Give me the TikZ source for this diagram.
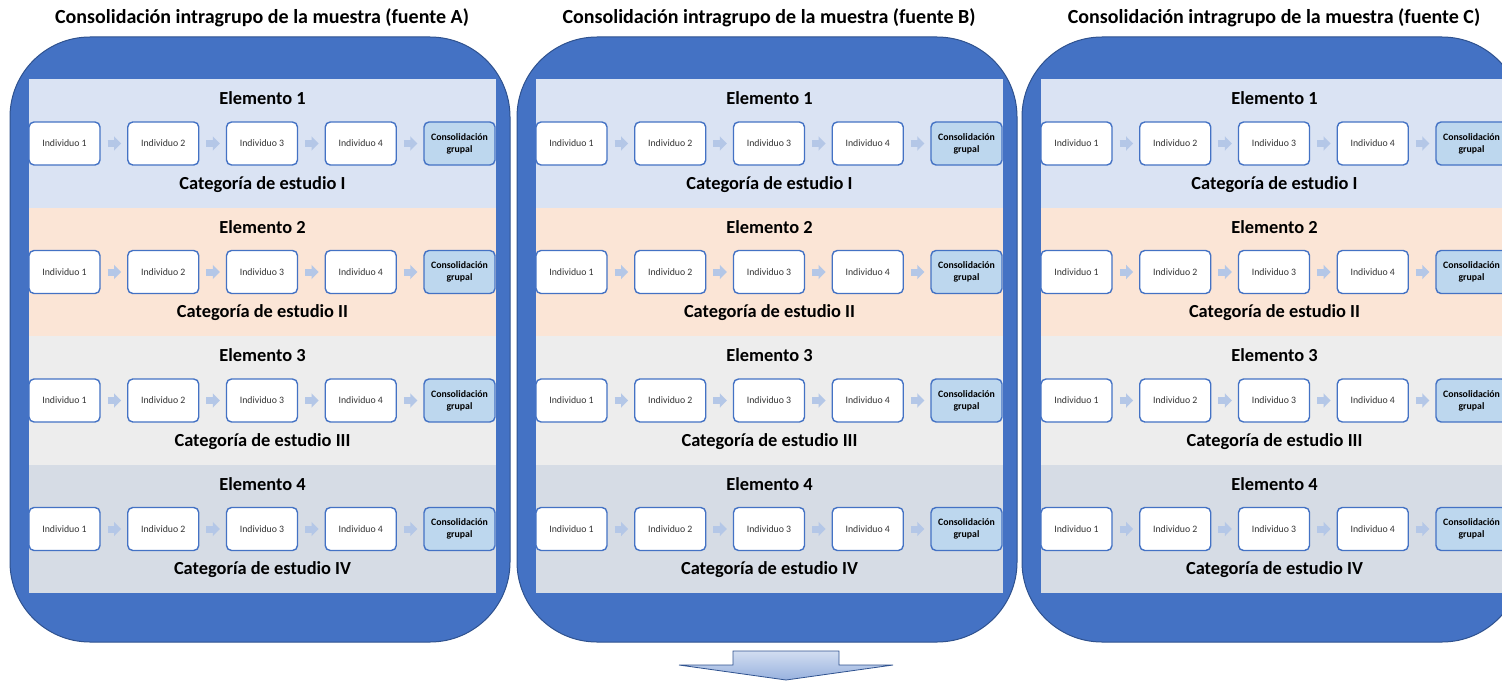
\documentclass[tikz,border=0pt]{standalone}
\usepackage{fontspec}
\setmainfont{Carlito}
\usetikzlibrary{positioning, arrows.meta}

\definecolor{panelblue}{HTML}{4472C4}
\definecolor{paneledge}{HTML}{2F528F}
\definecolor{bandone}{HTML}{DAE3F3}
\definecolor{bandtwo}{HTML}{FBE5D6}
\definecolor{bandthree}{HTML}{EDEDED}
\definecolor{bandfour}{HTML}{D6DCE5}
\definecolor{consfill}{HTML}{BDD7EE}
\definecolor{flowblue}{HTML}{B4C7E7}

\tikzset{
  panel/.style={fill=panelblue, draw=paneledge, line width=1bp, rounded corners=80bp},
  band/.style={inner sep=0pt, minimum width=467bp, minimum height=128.5bp},
  titletext/.style={font=\fontsize{20bp}{24bp}\selectfont\bfseries},
  rowtext/.style={font=\fontsize{18.4bp}{22bp}\selectfont\bfseries},
  indbox/.style={draw=panelblue, fill=white, line width=1.4bp, rounded corners=5bp,
    minimum width=71bp, minimum height=43bp, inner sep=1bp, text=black!80,
    font=\fontsize{9.8bp}{11bp}\selectfont},
  consbox/.style={indbox, fill=consfill, align=center, text=black,
    font=\fontsize{9.8bp}{12bp}\selectfont\bfseries},
  flow/.style={draw=flowblue, line width=7bp, -{Triangle[length=7bp,width=14bp]},
    shorten <=7bp, shorten >=6bp},
}

\begin{document}
\begin{tikzpicture}[x=1bp, y=-1bp]
  \clip (0,0) rectangle (1502,681);
  \foreach \src/\xo in {A/10, B/517, C/1022} {
    \node[titletext] (title-\src) at (\xo+252,18) {Consolidación intragrupo de la muestra (fuente \src)};
    \draw[panel] (\xo,37) rectangle (\xo+500,642);
    \foreach \row/\col/\cat in {1/bandone/I, 2/bandtwo/II, 3/bandthree/III, 4/bandfour/IV} {
      \node[band, fill=\col] (band-\src-\row) at (\xo+252.5,15+128.5*\row) {};
      \node[rowtext] (elem-\src-\row) at (\xo+252.5,-30+128.5*\row) {Elemento \row};
      \node[rowtext] (cat-\src-\row) at (\xo+252.5,56+128.5*\row) {Categoría de estudio \cat};
      \foreach \k in {1,...,4}
        \node[indbox] (box-\src-\row-\k) at (\xo-44.25+98.75*\k,15+128.5*\row) {Individuo \k};
      \node[consbox] (box-\src-\row-5) at (\xo+449.5,15+128.5*\row) {Consolidación\\grupal};
      \foreach \k [count=\n from 2] in {1,...,4}
        \draw[flow] (box-\src-\row-\k) -- (box-\src-\row-\n);
    }
  }
  \draw[draw=paneledge, line width=0.8bp, top color=flowblue!60, bottom color=panelblue!55]
    (733,651) -- (839,651) -- (839,665) -- (893,665) -- (786,680) -- (679,665) -- (733,665) -- cycle;
\end{tikzpicture}
\end{document}
